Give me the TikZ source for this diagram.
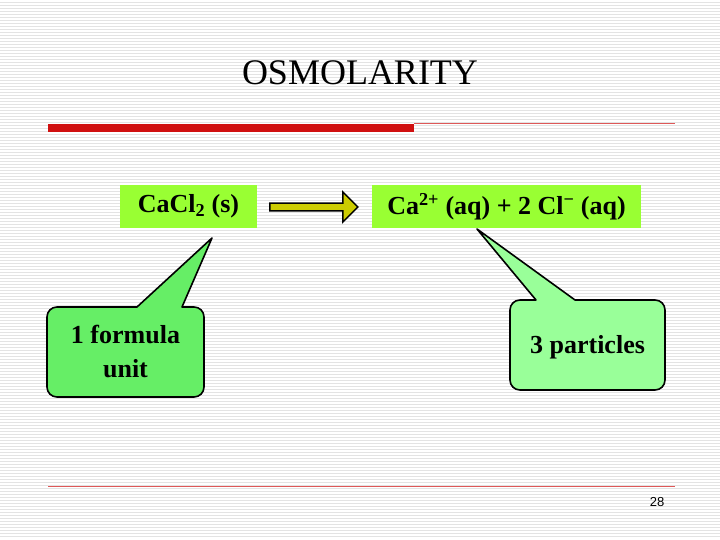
\documentclass[tikz,border=0pt]{standalone}
\usepackage{fontspec}
\setmainfont{Liberation Serif}
\newfontfamily\pnum{Liberation Sans}
\usetikzlibrary{shapes.arrows}
\definecolor{boxg}{HTML}{99FF33}
\definecolor{calA}{HTML}{66EE66}
\definecolor{calB}{HTML}{99FF99}
\definecolor{arr}{HTML}{CCCC00}
\definecolor{redbar}{HTML}{D01010}
\tikzset{
  eq/.style={fill=boxg, inner sep=0pt, font=\bfseries\fontsize{26}{30}\selectfont},
  callout/.style={draw=black, line width=1.6pt, line join=round},
  ctext/.style={font=\bfseries\fontsize{26}{34}\selectfont, align=center}
}
\begin{document}
\begin{tikzpicture}[x=1pt,y=-1pt]
\useasboundingbox (0,0) rectangle (720,540);
\fill[white] (0,0) rectangle (720,540);
\foreach \y in {2,5,...,538} \draw[gray!22, line width=0.8pt] (0,\y) -- (720,\y);
\node[font=\fontsize{36}{40}\selectfont] (title) at (360,73) {OSMOLARITY};
\fill[redbar] (48,124) rectangle (414,132);
\draw[redbar!70, line width=0.6pt] (414,123) -- (675,123);
\draw[redbar!70, line width=0.6pt] (48,486) -- (675,486);
\node[font=\pnum\fontsize{13}{15}\selectfont] (pg) at (657,502) {28};
% equation boxes
\node[eq, minimum width=137pt, minimum height=43pt] (r) at (188.5,206.5) {CaCl\textsubscript{2} (s)};
\node[eq, minimum width=269pt, minimum height=43pt] (p) at (506.5,206.5) {Ca\textsuperscript{2+} (aq) + 2 Cl\textsuperscript{\textminus} (aq)};
\node[single arrow, draw=black, line width=1.5pt, fill=arr, minimum width=30pt, single arrow head extend=8pt, single arrow head indent=0pt, minimum height=88pt, inner sep=2pt, shape border rotate=0] (ar) at (312,207) {};
% callout 1
\coordinate (t1) at (212,238);
\draw[callout, fill=calA] (137,307) -- (t1) -- (182,307) -- (194,307) to[out=0,in=90] (204,317) -- (204,387) to[out=-90,in=0] (194,397) -- (57,397) to[out=180,in=-90] (47,387) -- (47,317) to[out=90,in=180] (57,307) -- cycle;
\node[ctext] (c1) at (125.5,352) {1 formula\\unit};
% callout 2
\coordinate (t2) at (477,229);
\draw[callout, fill=calB] (536,300) -- (t2) -- (575,300) -- (655,300) to[out=0,in=90] (665,310) -- (665,380) to[out=-90,in=0] (655,390) -- (520,390) to[out=180,in=-90] (510,380) -- (510,310) to[out=90,in=180] (520,300) -- cycle;
\node[ctext] (c2) at (587.5,347) {3 particles};
\end{tikzpicture}
\end{document}
